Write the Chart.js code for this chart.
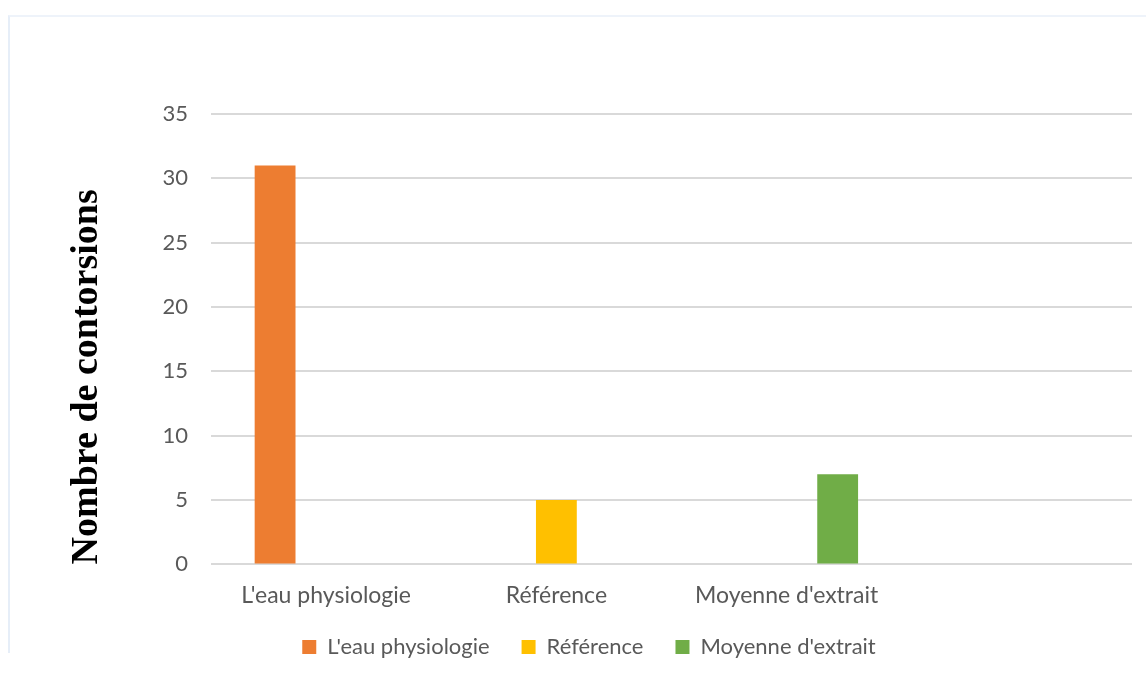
<!DOCTYPE html>
<html>
<head>
<meta charset="utf-8">
<script src="https://cdn.jsdelivr.net/npm/chart.js"></script>
<style>
  body { margin: 0; background: #fff; }
  #frame {
    position: absolute; left: 8px; top: 15px; width: 1138px; height: 636px;
    border-top: 2px solid #eef3fa; border-left: 2px solid #e6eef8;
  }
  #myChart { position: absolute; left: 0; top: 0; }
</style>
</head>
<body>
<div id="frame"></div>
<canvas id="myChart" width="1146" height="677"></canvas>
<script>
const categories = ["L'eau physiologie", "Référence", "Moyenne d'extrait", ""];
const seriesNames = ["L'eau physiologie", "Référence", "Moyenne d'extrait"];
const eauValues = [31, null, null, null];
const refValues = [null, 5, null, null];
const extraitValues = [null, null, 7, null];
const colors = ["#ED7D31", "#FFC000", "#70AD47"];
const yTicks = [0, 5, 10, 15, 20, 25, 30, 35];

const tickFont = { family: "Lato", size: 22 };
const labelFont = { family: "Lato", size: 23 };

// legend sits closer to the axis labels than chart.js would put it
const legendShift = {
  id: "legendShift",
  afterLayout(chart) {
    chart.legend.top -= 22;
    chart.legend.bottom -= 22;
  },
};

function showChart() {
  const values = [eauValues, refValues, extraitValues];
  const data = {
    labels: categories,
    datasets: seriesNames.map((name, i) => {
      return {
        label: name,
        data: values[i],
        backgroundColor: colors[i],
        borderWidth: 0,
        categoryPercentage: 0.665,
        barPercentage: 0.8,
      };
    }),
  };

  const config = {
    type: "bar",
    data: data,
    options: {
      responsive: false,
      animation: false,
      layout: { padding: { top: 114, left: 46, right: 14, bottom: -13 } },
      scales: {
        x: {
          grid: { display: false, drawTicks: false },
          border: { display: false },
          ticks: { color: "#595959", font: labelFont, padding: 17, maxRotation: 0 },
        },
        y: {
          min: 0,
          max: 35,
          afterBuildTicks: (scale) => {
            scale.ticks = yTicks.map((v) => ({ value: v }));
          },
          afterFit: (scale) => {
            scale.width = 165;
          },
          grid: { color: "#d9d9d9", lineWidth: 2, drawTicks: false },
          border: { display: false },
          ticks: { color: "#595959", font: tickFont, padding: 23 },
          title: {
            display: true,
            text: "Nombre de contorsions",
            color: "#000",
            align: "start",
            font: { family: "Liberation Serif", size: 38, weight: "bold", lineHeight: 1.2 },
            padding: { top: 18, bottom: 0 },
          },
        },
      },
      plugins: {
        legend: {
          position: "bottom",
          labels: {
            boxWidth: 14,
            boxHeight: 14,
            padding: 32,
            color: "#595959",
            font: tickFont,
          },
        },
        tooltip: { enabled: false },
      },
    },
    plugins: [legendShift],
  };

  new Chart(document.getElementById("myChart"), config);
}
showChart();
</script>
</body>
</html>
